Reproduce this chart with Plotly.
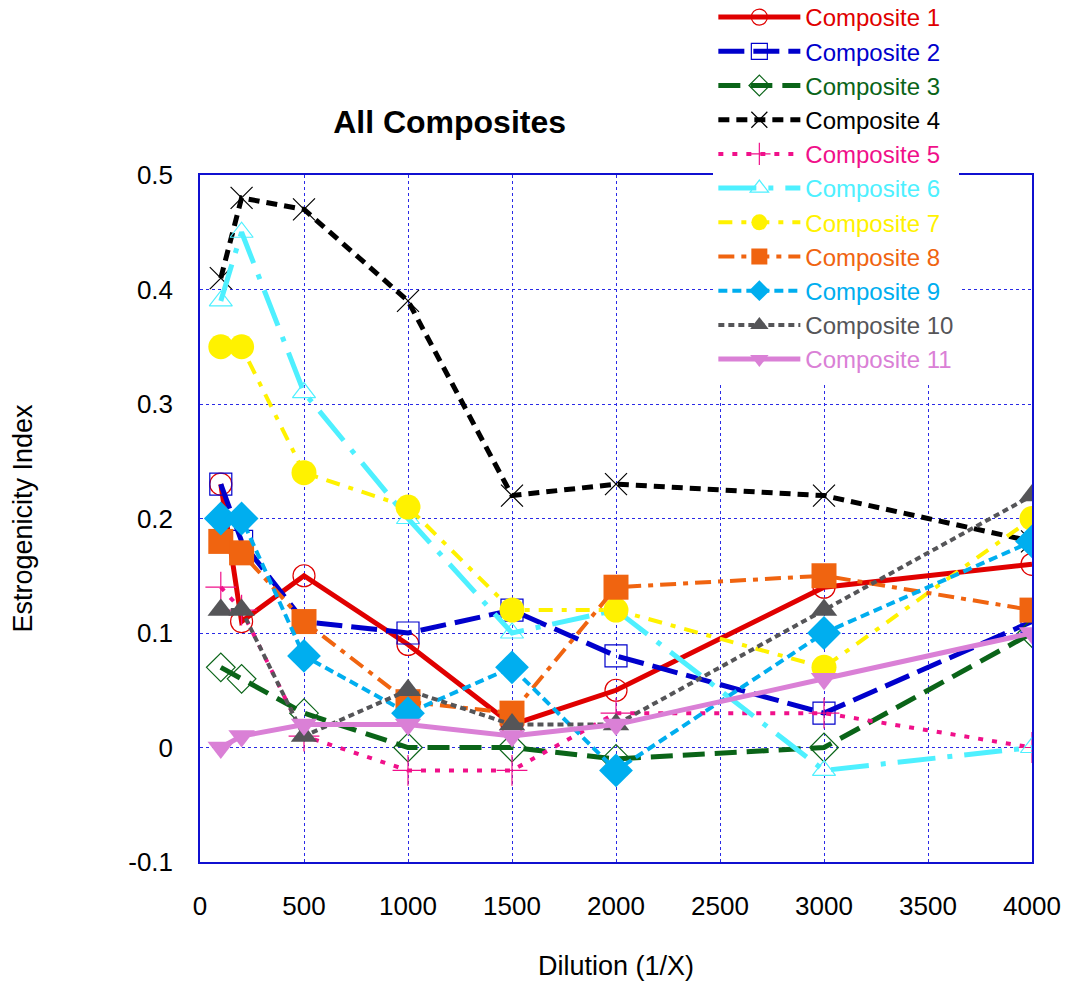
import plotly.graph_objects as go

dilution = [100, 200, 500, 1000, 1500, 2000, 3000, 4000]

names = ["Composite 1", "Composite 2", "Composite 3", "Composite 4", "Composite 5",
         "Composite 6", "Composite 7", "Composite 8", "Composite 9", "Composite 10",
         "Composite 11"]

c1 = [0.23, 0.11, 0.15, 0.09, 0.02, 0.05, 0.14, 0.16]
c2 = [0.23, 0.18, 0.11, 0.10, 0.12, 0.08, 0.03, 0.11]
c3 = [0.07, 0.06, 0.03, 0.00, 0.00, -0.01, 0.00, 0.10]
c4 = [0.41, 0.48, 0.47, 0.39, 0.22, 0.23, 0.22, 0.18]
c5 = [0.14, 0.12, 0.01, -0.02, -0.02, 0.03, 0.03, 0.00]
c6 = [0.39, 0.45, 0.31, 0.20, 0.10, 0.12, -0.02, 0.00]
c7 = [0.35, 0.35, 0.24, 0.21, 0.12, 0.12, 0.07, 0.20]
c8 = [0.18, 0.17, 0.11, 0.04, 0.03, 0.14, 0.15, 0.12]
c9 = [0.20, 0.20, 0.08, 0.03, 0.07, -0.02, 0.10, 0.18]
c10 = [0.12, 0.12, 0.01, 0.05, 0.02, 0.02, 0.12, 0.22]
c11 = [0.00, 0.01, 0.02, 0.02, 0.01, 0.02, 0.06, 0.10]

series = [c1, c2, c3, c4, c5, c6, c7, c8, c9, c10, c11]

x_ticks = [0, 500, 1000, 1500, 2000, 2500, 3000, 3500, 4000]
x_ticktext = ["0", "500", "1000", "1500", "2000", "2500", "3000", "3500", "4000"]
y_ticks = [-0.1, 0, 0.1, 0.2, 0.3, 0.4, 0.5]
y_ticktext = ["-0.1", "0", "0.1", "0.2", "0.3", "0.4", "0.5"]

styles = [
    dict(color="#e00000", dash="solid", width=5, symbol="circle-open", size=22),
    dict(color="#0000cc", dash="26px,9px", width=5, symbol="square-open", size=22),
    dict(color="#0a6418", dash="22px,10px", width=5, symbol="diamond-open", size=22),
    dict(color="#000000", dash="11px,7px", width=5, symbol="x-thin-open", size=22),
    dict(color="#f0108a", dash="5px,9px", width=4, symbol="cross-thin-open", size=22),
    dict(color="#4ef0ff", dash="38px,12px,5px,12px", width=5, symbol="triangle-up-open", size=20),
    dict(color="#fff200", dash="14px,9px,5px,9px", width=4, symbol="circle", size=25),
    dict(color="#f06410", dash="16px,7px,5px,7px", width=4, symbol="square", size=25),
    dict(color="#00aeef", dash="9px,5px", width=4, symbol="diamond", size=26),
    dict(color="#555558", dash="6px,4px", width=4, symbol="triangle-up", size=23),
    dict(color="#da80d6", dash="solid", width=5, symbol="triangle-down", size=23),
]

fig = go.Figure()
for name, ys, st in zip(names, series, styles):
    open_sym = st["symbol"].endswith("open")
    fig.add_trace(go.Scatter(
        x=dilution, y=ys, mode="lines+markers",
        name="<span style='color:%s'>%s</span>" % (st["color"], name),
        line=dict(color=st["color"], width=st["width"], dash=st["dash"]),
        marker=dict(symbol=st["symbol"], size=st["size"], color=st["color"],
                    line=dict(width=1.2 if open_sym else 0, color=st["color"])),
    ))

FONT = "Liberation Sans, Arial, sans-serif"
grid = "#2a2ae6"

fig.update_layout(
    width=1065, height=981,
    margin=dict(l=200, r=33, t=175, b=119, autoexpand=False),
    paper_bgcolor="white", plot_bgcolor="white",
    font=dict(family=FONT, size=26, color="black"),
    title=dict(text="<b>All Composites</b>", font=dict(family=FONT, size=32, color="black"),
               x=0.30, xref="paper", xanchor="center", y=1 - 122 / 981, yref="container",
               yanchor="middle"),
    showlegend=True,
    legend=dict(x=0.617, y=1.262, xanchor="left", yanchor="top", bgcolor="white",
                borderwidth=0, font=dict(family=FONT, size=24), itemwidth=82,
                tracegroupgap=0),
    xaxis=dict(range=[0, 4000], tickvals=x_ticks, ticktext=x_ticktext,
               showgrid=True, gridcolor=grid, gridwidth=1, griddash="3px,3px",
               showline=True, linecolor="#1010d0", linewidth=1.5, mirror=True,
               zeroline=False, ticks="", ticklabelstandoff=20,
               title=dict(text="Dilution (1/X)", font=dict(size=27), standoff=38),
               tickfont=dict(size=26)),
    yaxis=dict(range=[-0.1, 0.5], tickvals=y_ticks, ticktext=y_ticktext,
               showgrid=True, gridcolor=grid, gridwidth=1, griddash="3px,3px",
               showline=True, linecolor="#1010d0", linewidth=1.5, mirror=True,
               zeroline=False, ticks="", ticklabelstandoff=20,
               title=dict(text="Estrogenicity Index", font=dict(size=27), standoff=88),
               tickfont=dict(size=26)),
)

fig.write_html("out.html", config={"displayModeBar": False},
               post_script="document.body.style.margin='0';document.body.style.overflow='hidden';")
